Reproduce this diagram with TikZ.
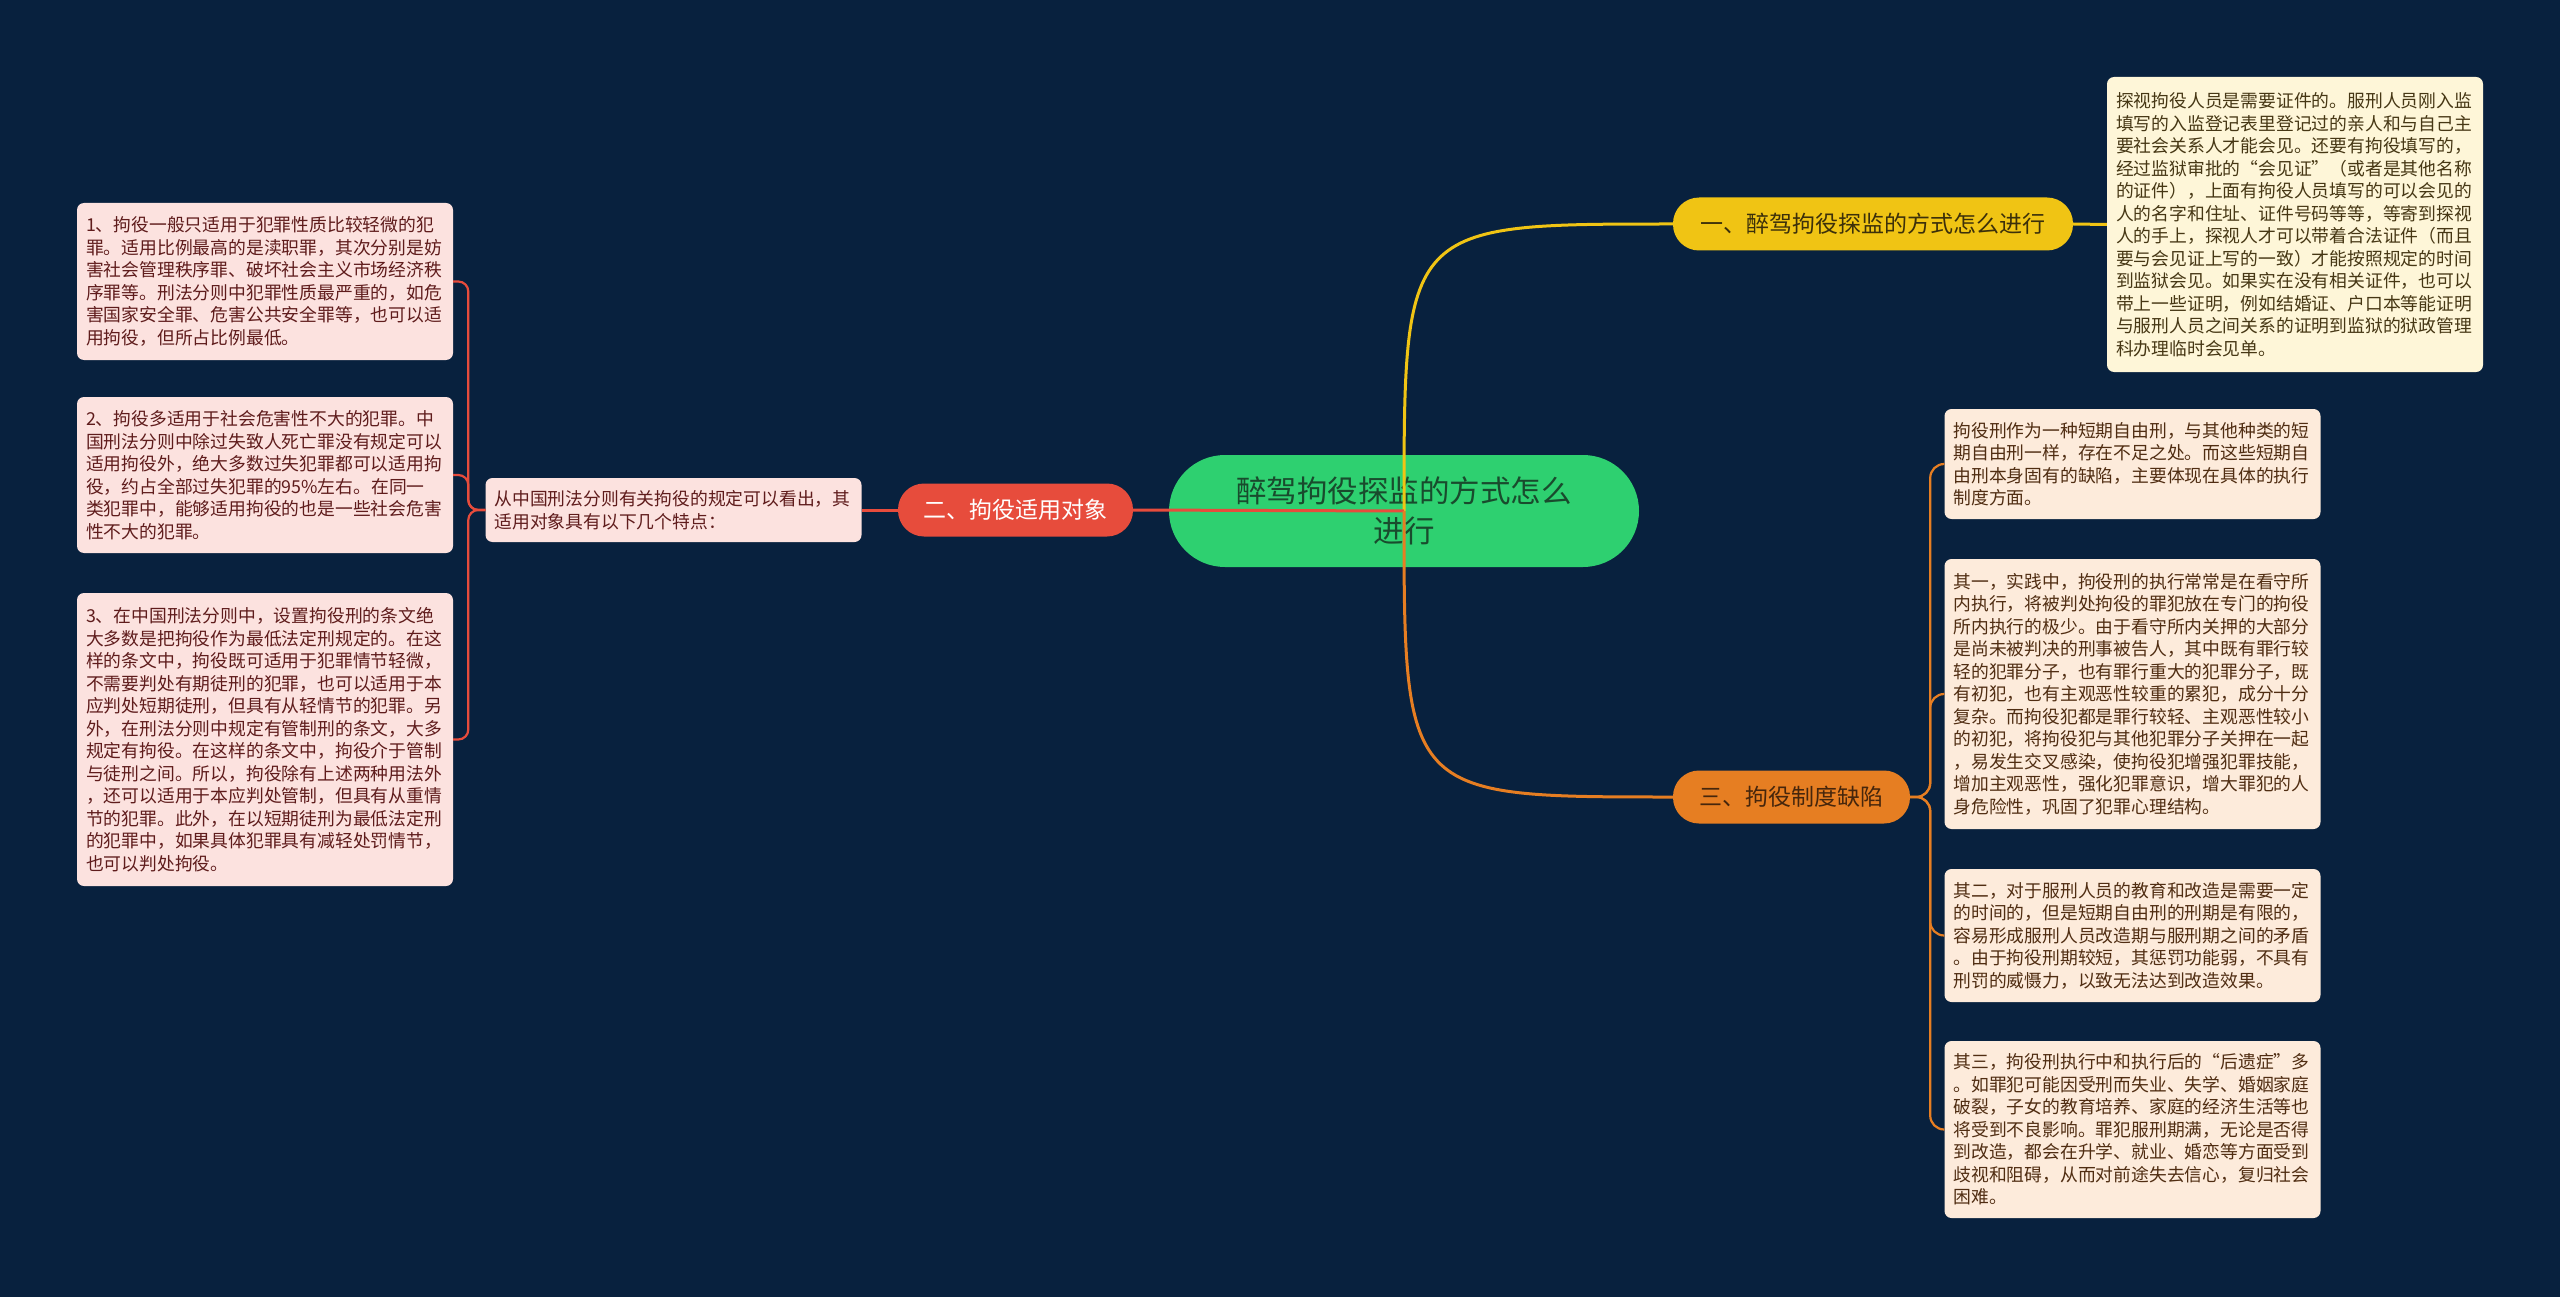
\documentclass[tikz,border=0pt]{standalone}
\usepackage{fontspec}
\newfontfamily\cjk{Noto Sans CJK SC}

\definecolor{bg}{RGB}{8,33,62}
\definecolor{rootgreen}{RGB}{46,208,112}
\definecolor{rootink}{RGB}{25,75,45}
\definecolor{yel}{RGB}{240,196,20}
\definecolor{yelink}{RGB}{60,48,10}
\definecolor{redb}{RGB}{231,76,60}
\definecolor{org}{RGB}{230,126,34}
\definecolor{orgink}{RGB}{70,38,12}
\definecolor{pinkbox}{RGB}{252,226,223}
\definecolor{pinkink}{RGB}{95,28,28}
\definecolor{creambox}{RGB}{254,246,216}
\definecolor{creamink}{RGB}{70,55,20}
\definecolor{peachbox}{RGB}{253,235,219}
\definecolor{peachink}{RGB}{80,45,18}

\tikzset{
  topic/.style={rounded corners=26pt, minimum height=53pt, inner sep=0pt,
    font=\cjk\fontsize{23}{28}\selectfont},
  leaf/.style={rounded corners=7pt, inner xsep=9pt, inner ysep=0pt,
    text width=358pt, align=left, font=\cjk\fontsize{17.8}{22.5}\selectfont},
  link/.style={line width=3pt},
  brace/.style={line width=2.2pt},
}

\begin{document}
\begin{tikzpicture}[x=1pt, y=-1pt]
\fill[bg] (0,0) rectangle (2560,1297);
\useasboundingbox (0,0) rectangle (2560,1297);

% root and the three topics
\node[fill=rootgreen, text=rootink, rounded corners=56pt, minimum width=470pt,
  minimum height=112pt, align=center, font=\cjk\fontsize{30.5}{40}\selectfont]
  (root) at (1404,511) {醉驾拘役探监的方式怎么\\进行};

\node[topic, fill=yel, text=yelink, minimum width=400pt] (q1) at (1873,224) {一、醉驾拘役探监的方式怎么进行};
\node[topic, fill=redb, text=white, minimum width=235pt] (q2) at (1015.5,510) {二、拘役适用对象};
\node[topic, fill=org, text=orgink, minimum width=237pt] (q3) at (1791.5,797) {三、拘役制度缺陷};

% leaves of q1
\node[leaf, fill=creambox, text=creamink, minimum height=295pt] (a1) at (2295,224.5) {探视拘役人员是需要证件的。服刑人员刚入监\\
填写的入监登记表里登记过的亲人和与自己主\\
要社会关系人才能会见。还要有拘役填写的，\\
经过监狱审批的“会见证”（或者是其他名称\\
的证件），上面有拘役人员填写的可以会见的\\
人的名字和住址、证件号码等等，等寄到探视\\
人的手上，探视人才可以带着合法证件（而且\\
要与会见证上写的一致）才能按照规定的时间\\
到监狱会见。如果实在没有相关证件，也可以\\
带上一些证明，例如结婚证、户口本等能证明\\
与服刑人员之间关系的证明到监狱的狱政管理\\
科办理临时会见单。};

% leaves of q2
\node[leaf, fill=pinkbox, text=pinkink, minimum height=64pt] (b0) at (673.5,510) {从中国刑法分则有关拘役的规定可以看出，其\\
适用对象具有以下几个特点：};

\node[leaf, fill=pinkbox, text=pinkink, minimum height=157pt] (b1) at (265,281.5) {1、拘役一般只适用于犯罪性质比较轻微的犯\\
罪。适用比例最高的是渎职罪，其次分别是妨\\
害社会管理秩序罪、破坏社会主义市场经济秩\\
序罪等。刑法分则中犯罪性质最严重的，如危\\
害国家安全罪、危害公共安全罪等，也可以适\\
用拘役，但所占比例最低。};

\node[leaf, fill=pinkbox, text=pinkink, minimum height=156pt] (b2) at (265,475) {2、拘役多适用于社会危害性不大的犯罪。中\\
国刑法分则中除过失致人死亡罪没有规定可以\\
适用拘役外，绝大多数过失犯罪都可以适用拘\\
役，约占全部过失犯罪的95\%左右。在同一\\
类犯罪中，能够适用拘役的也是一些社会危害\\
性不大的犯罪。};

\node[leaf, fill=pinkbox, text=pinkink, minimum height=293pt] (b3) at (265,739.5) {3、在中国刑法分则中，设置拘役刑的条文绝\\
大多数是把拘役作为最低法定刑规定的。在这\\
样的条文中，拘役既可适用于犯罪情节轻微，\\
不需要判处有期徒刑的犯罪，也可以适用于本\\
应判处短期徒刑，但具有从轻情节的犯罪。另\\
外，在刑法分则中规定有管制刑的条文，大多\\
规定有拘役。在这样的条文中，拘役介于管制\\
与徒刑之间。所以，拘役除有上述两种用法外\\
，还可以适用于本应判处管制，但具有从重情\\
节的犯罪。此外，在以短期徒刑为最低法定刑\\
的犯罪中，如果具体犯罪具有减轻处罚情节，\\
也可以判处拘役。};

% leaves of q3
\node[leaf, fill=peachbox, text=peachink, minimum height=110pt] (c1) at (2132.5,464) {拘役刑作为一种短期自由刑，与其他种类的短\\
期自由刑一样，存在不足之处。而这些短期自\\
由刑本身固有的缺陷，主要体现在具体的执行\\
制度方面。};

\node[leaf, fill=peachbox, text=peachink, minimum height=270pt] (c2) at (2132.5,694) {其一，实践中，拘役刑的执行常常是在看守所\\
内执行，将被判处拘役的罪犯放在专门的拘役\\
所内执行的极少。由于看守所内关押的大部分\\
是尚未被判决的刑事被告人，其中既有罪行较\\
轻的犯罪分子，也有罪行重大的犯罪分子，既\\
有初犯，也有主观恶性较重的累犯，成分十分\\
复杂。而拘役犯都是罪行较轻、主观恶性较小\\
的初犯，将拘役犯与其他犯罪分子关押在一起\\
，易发生交叉感染，使拘役犯增强犯罪技能，\\
增加主观恶性，强化犯罪意识，增大罪犯的人\\
身危险性，巩固了犯罪心理结构。};

\node[leaf, fill=peachbox, text=peachink, minimum height=133pt] (c3) at (2132.5,935.5) {其二，对于服刑人员的教育和改造是需要一定\\
的时间的，但是短期自由刑的刑期是有限的，\\
容易形成服刑人员改造期与服刑期之间的矛盾\\
。由于拘役刑期较短，其惩罚功能弱，不具有\\
刑罚的威慑力，以致无法达到改造效果。};

\node[leaf, fill=peachbox, text=peachink, minimum height=177pt] (c4) at (2132.5,1129.5) {其三，拘役刑执行中和执行后的“后遗症”多\\
。如罪犯可能因受刑而失业、失学、婚姻家庭\\
破裂，子女的教育培养、家庭的经济生活等也\\
将受到不良影响。罪犯服刑期满，无论是否得\\
到改造，都会在升学、就业、婚恋等方面受到\\
歧视和阻碍，从而对前途失去信心，复归社会\\
困难。};

% connectors
\draw[link, yel] (root.center) .. controls (root.center |- q1.west) .. (q1.west);
\draw[link, yel] (q1.east) -- (a1.west);

\draw[link, redb] (root.center) -- (q2.east);
\draw[link, redb] (q2.west) -- (b0.east);
\foreach \b in {b1,b2,b3}
  \draw[brace, redb, rounded corners=10pt] (b0.west) -- ++(-17,0) |- (\b.east);

\draw[link, org] (root.center) .. controls (root.center |- q3.west) .. (q3.west);
\foreach \c in {c1,c2,c3,c4}
  \draw[brace, org, rounded corners=14pt] (q3.east) -- ++(20,0) |- (\c.west);
\end{tikzpicture}
\end{document}
